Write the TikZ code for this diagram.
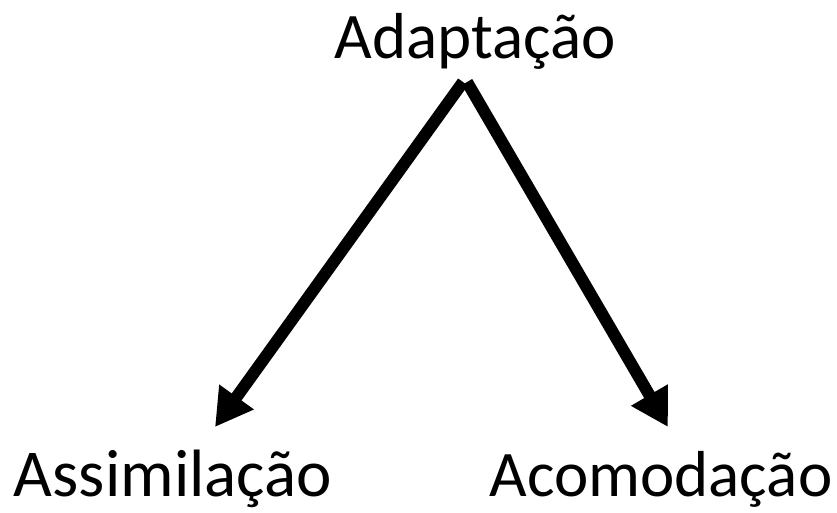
\documentclass[tikz,border=0pt]{standalone}
\usepackage{fontspec}
\setmainfont{Carlito}
\usetikzlibrary{arrows.meta}
\begin{document}
\begin{tikzpicture}[x=1pt,y=-1pt,
  lbl/.style={inner sep=0pt, font=\fontsize{65}{70}\selectfont, anchor=base},
  arr/.style={line width=12pt, -{Triangle[length=37pt,width=40pt]}}]
\useasboundingbox (0,0) rectangle (837,512);
\node[lbl] (adapt) at (475.5,58) {Adaptação};
\node[lbl, font=\fontsize{67}{72}\selectfont] (assim) at (173,496) {Assimilação};
\node[lbl] (acomo) at (661,496) {Acomodação};
\coordinate (sl) at (463,82);
\coordinate (sr) at (467,82);
\coordinate (tl) at (215,427);
\coordinate (tr) at (668,427);
\draw[arr] (sl) -- (tl);
\draw[arr] (sr) -- (tr);
\end{tikzpicture}
\end{document}
